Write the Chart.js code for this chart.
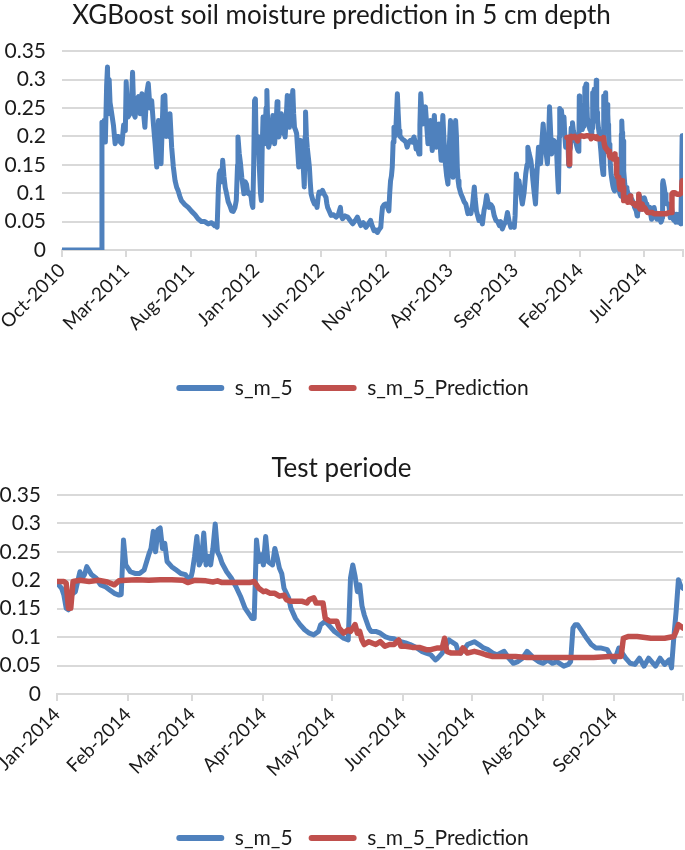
<!DOCTYPE html>
<html>
<head>
<meta charset="utf-8">
<script src="https://cdn.jsdelivr.net/npm/chart.js@4/dist/chart.umd.min.js"></script>
<style>
  html, body { margin: 0; padding: 0; background: #ffffff; }
  #wrap { position: relative; width: 685px; height: 850px; overflow: hidden; }
  canvas { position: absolute; left: 0; }
</style>
</head>
<body>
<div id="wrap">
  <canvas id="c1" width="685" height="430" style="top:0px"></canvas>
  <canvas id="c2" width="685" height="440" style="top:425px"></canvas>
</div>
<script>
// ---------- DATA ----------
// Full period: day offsets counted from 1 Oct 2010
const histDays = [0,93,94,96,99,102,105,107,109,111,113,117,121,125,129,133,137,141,145,149,151,155,160,163,166,169,172,176,180,184,188,192,195,199,203,207,211,215,219,223,227,230,233,238,242,245,248,251,254,258,262,266,270,273,277,281,289,297,305,313,320,328,336,344,352,359,363,365,368,370,373,376,378,381,384,387,391,395,399,403,407,410,413,414,417,420,423,426,428,431,434,437,439,442,445,447,449,451,453,455,457,459,461,463,465,467,469,471,473,475,477,480,482,484,486,489,492,494,496,498,500,503,506,508,510,513,516,518,521,523,525,528,530,533,535,537,539,541,543,545,547,550,552,555,557,559,561,563,566,568,570,572,573,575,577,580,582,584,586,590,594,597,600,603,605,609,613,617,621,623,625,629,633,639,645,650,655,657,660,666,672,678,684,690,695,699,703,709,715,720,726,730,734,738,742,746,750,752,754,758,762,766,769,771,773,775,777,779,781,783,785,787,789,791,793,795,797,801,805,809,812,816,820,824,828,831,833,836,840,842,844,846,849,852,855,858,861,864,867,869,871,874,876,878,881,884,887,890,892,894,896,899,902,905,908,911,914,917,920,923,926,928,930,932,934,938,942,946,950,955,959,962,966,970,972,975,978,981,985,989,993,996,999,1002,1005,1009,1013,1017,1021,1025,1029,1032,1036,1040,1044,1048,1052,1056,1060,1064,1066,1069,1072,1075,1079,1083,1087,1091,1094,1096,1099,1103,1106,1108,1111,1114,1117,1121,1124,1126,1129,1132,1134,1136,1139,1142,1145,1147,1150,1152,1155,1157,1160,1163,1166,1168,1170,1171,1173,1175,1178,1181,1183,1185,1187];
const histVals = [0,0,0.225,0.21,0.228,0.19,0.29,0.322,0.24,0.3,0.26,0.24,0.22,0.187,0.2,0.2,0.19,0.187,0.22,0.21,0.296,0.234,0.24,0.25,0.313,0.24,0.234,0.265,0.27,0.24,0.275,0.24,0.216,0.275,0.293,0.25,0.263,0.222,0.187,0.146,0.228,0.2,0.152,0.27,0.272,0.2,0.234,0.2,0.24,0.181,0.146,0.122,0.11,0.105,0.095,0.087,0.08,0.075,0.068,0.062,0.055,0.05,0.05,0.046,0.048,0.043,0.047,0.04,0.11,0.134,0.14,0.12,0.158,0.13,0.11,0.1,0.085,0.078,0.069,0.068,0.075,0.087,0.15,0.199,0.17,0.152,0.128,0.11,0.099,0.12,0.116,0.1,0.099,0.1,0.093,0.08,0.075,0.15,0.263,0.266,0.175,0.2,0.193,0.17,0.134,0.1,0.087,0.18,0.234,0.2,0.187,0.25,0.281,0.22,0.181,0.19,0.193,0.22,0.237,0.2,0.187,0.21,0.261,0.22,0.199,0.22,0.24,0.21,0.205,0.22,0.199,0.24,0.272,0.23,0.216,0.25,0.272,0.26,0.281,0.24,0.216,0.21,0.205,0.17,0.146,0.17,0.193,0.18,0.175,0.14,0.111,0.2,0.243,0.2,0.181,0.16,0.146,0.12,0.099,0.088,0.081,0.085,0.075,0.095,0.102,0.1,0.105,0.098,0.093,0.082,0.075,0.068,0.061,0.062,0.058,0.062,0.075,0.06,0.055,0.06,0.058,0.052,0.046,0.052,0.058,0.05,0.043,0.048,0.04,0.045,0.052,0.042,0.034,0.035,0.031,0.036,0.04,0.06,0.075,0.08,0.081,0.075,0.069,0.1,0.122,0.13,0.146,0.19,0.216,0.2,0.205,0.24,0.275,0.24,0.21,0.2,0.199,0.195,0.193,0.19,0.181,0.19,0.193,0.19,0.199,0.19,0.178,0.18,0.169,0.22,0.275,0.25,0.222,0.24,0.252,0.22,0.187,0.2,0.228,0.2,0.175,0.21,0.237,0.21,0.181,0.2,0.222,0.18,0.158,0.2,0.237,0.19,0.152,0.13,0.116,0.18,0.228,0.18,0.128,0.18,0.228,0.2,0.146,0.122,0.111,0.1,0.093,0.085,0.081,0.064,0.068,0.064,0.08,0.111,0.09,0.069,0.06,0.052,0.058,0.046,0.07,0.08,0.096,0.085,0.075,0.08,0.075,0.06,0.052,0.05,0.043,0.05,0.037,0.045,0.05,0.066,0.05,0.04,0.045,0.04,0.06,0.134,0.11,0.122,0.1,0.081,0.1,0.134,0.15,0.181,0.17,0.158,0.14,0.122,0.1,0.081,0.13,0.181,0.16,0.152,0.19,0.222,0.2,0.193,0.17,0.152,0.2,0.252,0.2,0.169,0.19,0.193,0.19,0.187,0.13,0.102,0.2,0.249,0.23,0.246,0.22,0.234,0.2,0.181,0.195];

// Test period: day offsets counted from 1 Jan 2014
const testStartDay = 1188; // 1 Jan 2014 counted from 1 Oct 2010
const testDays = [0,2,3,4,5,6,8,10,11,12,13,15,17,19,21,23,25,27,28,29,30,31,32,34,36,38,40,41,42,43,44,45,46,47,48,50,52,54,56,58,59,60,61,62,63,64,65,66,67,68,69,70,71,72,74,76,78,80,82,84,85,86,87,88,89,90,91,92,93,94,95,96,97,98,99,101,102,104,106,108,110,112,114,115,117,119,121,123,125,127,128,129,130,131,132,133,134,136,137,139,141,143,145,147,148,150,152,154,156,157,159,161,163,165,166,168,169,171,172,174,175,176,178,179,182,184,186,188,190,192,195,197,199,201,203,205,208,210,212,214,216,218,221,223,224,225,226,227,229,231,233,235,237,240,242,243,245,246,248,250,252,254,256,258,261,263,265,267,268,269,270,271,272,273];
const testVals = [0.195,0.186,0.174,0.151,0.148,0.174,0.18,0.215,0.204,0.21,0.224,0.21,0.204,0.192,0.189,0.183,0.177,0.174,0.175,0.271,0.227,0.221,0.215,0.212,0.212,0.218,0.245,0.256,0.286,0.25,0.289,0.292,0.256,0.265,0.233,0.224,0.218,0.212,0.21,0.198,0.215,0.242,0.277,0.227,0.236,0.283,0.227,0.242,0.227,0.256,0.299,0.25,0.242,0.23,0.215,0.204,0.189,0.172,0.151,0.139,0.133,0.133,0.271,0.233,0.245,0.227,0.277,0.233,0.23,0.227,0.256,0.24,0.221,0.212,0.186,0.169,0.151,0.133,0.122,0.113,0.107,0.104,0.11,0.122,0.128,0.119,0.11,0.104,0.098,0.095,0.204,0.227,0.207,0.18,0.192,0.155,0.139,0.116,0.11,0.11,0.107,0.101,0.098,0.097,0.095,0.092,0.09,0.087,0.083,0.081,0.075,0.072,0.069,0.06,0.063,0.072,0.081,0.095,0.092,0.087,0.075,0.072,0.081,0.087,0.092,0.087,0.081,0.078,0.072,0.069,0.075,0.063,0.054,0.057,0.063,0.075,0.063,0.057,0.054,0.06,0.054,0.057,0.049,0.052,0.057,0.116,0.122,0.122,0.11,0.098,0.087,0.081,0.081,0.078,0.063,0.057,0.081,0.075,0.063,0.054,0.052,0.063,0.049,0.063,0.049,0.063,0.052,0.06,0.046,0.1,0.145,0.201,0.19,0.186];
const predDays = [0,3,4,5,6,7,10,14,18,22,25,27,30,35,40,45,50,55,57,60,65,68,70,72,76,80,84,86,88,90,91,93,95,97,99,100,102,104,107,109,110,112,113,116,117,119,122,123,125,127,128,130,131,132,133,134,136,139,141,143,145,147,149,150,152,155,158,161,163,166,168,169,170,172,176,177,179,182,185,187,190,195,200,205,212,220,227,234,241,246,247,249,253,259,265,269,270,271,273];
const predVals = [0.198,0.198,0.195,0.151,0.151,0.198,0.2,0.198,0.2,0.197,0.192,0.199,0.2,0.201,0.2,0.201,0.201,0.2,0.196,0.2,0.199,0.197,0.199,0.196,0.196,0.196,0.196,0.198,0.186,0.18,0.181,0.177,0.177,0.172,0.174,0.166,0.163,0.163,0.163,0.16,0.166,0.169,0.16,0.16,0.133,0.128,0.128,0.116,0.107,0.113,0.11,0.122,0.107,0.11,0.095,0.087,0.092,0.087,0.092,0.084,0.087,0.087,0.095,0.084,0.084,0.082,0.082,0.078,0.078,0.081,0.081,0.098,0.075,0.072,0.072,0.081,0.072,0.075,0.072,0.069,0.066,0.066,0.066,0.064,0.064,0.064,0.064,0.064,0.066,0.066,0.098,0.101,0.101,0.098,0.098,0.101,0.11,0.122,0.116];

// Axis tick dates and labels
const topTickDays = [0,151,304,457,609,762,913,1066,1219,1369,1461];
const topTickLabels = ['Oct-2010','Mar-2011','Aug-2011','Jan-2012','Jun-2012','Nov-2012','Apr-2013','Sep-2013','Feb-2014','Jul-2014',''];
const testTickDays = [0,31,59,90,120,151,181,212,243,273];
const testTickLabels = ['Jan-2014','Feb-2014','Mar-2014','Apr-2014','May-2014','Jun-2014','Jul-2014','Aug-2014','Sep-2014',''];
const yTicks = [0,0.05,0.1,0.15,0.2,0.25,0.3,0.35];

const seriesNames = ['s_m_5','s_m_5_Prediction'];
const titles = ['XGBoost soil moisture prediction in 5 cm depth','Test periode'];

// ---------- BUILD ----------
const pts = (days, vals, off) => days.map((d, i) => ({x: d + off, y: vals[i]}));
const topBlue = pts(histDays, histVals, 0).concat(pts(testDays, testVals, testStartDay));
const topRed = pts(predDays, predVals, testStartDay);
const botBlue = pts(testDays, testVals, 0);
const botRed = pts(predDays, predVals, 0);

const FONT = 'Lato, "Open Sans", sans-serif';
const TXT = '#1a1a1a';
const BLUE = '#4F81BD';
const RED = '#C0504D';
const GRID = '#D9D9D9';

// shifts the legend block horizontally (Excel places it slightly right of centre)
const legendShift = {
  id: 'legendShift',
  afterUpdate(chart, args, o) {
    if (chart.legend) { chart.legend.left += o.dx; chart.legend.right += o.dx; }
  }
};

function makeChart(canvasId, opts) {
  const legendLabels = (chart) => Chart.defaults.plugins.legend.labels.generateLabels(chart)
      .map(l => Object.assign(l, {lineWidth: 0}));
  return new Chart(document.getElementById(canvasId), {
    type: 'line',
    plugins: [legendShift],
    data: {
      datasets: [
        {label: seriesNames[0], data: opts.blue, borderColor: BLUE, backgroundColor: BLUE,
         borderWidth: opts.blueWidth, pointRadius: 0, order: 2, borderJoinStyle: 'round', borderCapStyle: 'round'},
        {label: seriesNames[1], data: opts.red, borderColor: RED, backgroundColor: RED,
         borderWidth: 5.5, pointRadius: 0, order: 1, borderJoinStyle: 'round', borderCapStyle: 'round'}
      ]
    },
    options: {
      responsive: false,
      animation: false,
      devicePixelRatio: 1,
      layout: {padding: {left: 0, right: 2, top: 0, bottom: opts.padBottom}},
      plugins: {
        legendShift: {dx: 11},
        title: {display: true, text: opts.title, color: TXT,
                font: {family: FONT, size: 26, weight: 'normal'},
                padding: {top: opts.titleTop, bottom: opts.titleBottom}},
        legend: {position: 'bottom',
                 labels: {boxWidth: 48, boxHeight: 6, color: TXT, padding: 16,
                          font: {family: FONT, size: 21},
                          useBorderRadius: true, borderRadius: 3,
                          generateLabels: legendLabels,
                          sort: (a, b) => a.datasetIndex - b.datasetIndex}},
        tooltip: {enabled: false}
      },
      scales: {
        x: {
          type: 'linear', min: 0, max: opts.max,
          afterBuildTicks: (s) => { s.ticks = opts.tickDays.map(v => ({value: v})); },
          afterFit: (s) => { s.height = opts.xHeight; s.paddingLeft = 0; s.paddingRight = 0; },
          ticks: {autoSkip: false, minRotation: 45, maxRotation: 45, color: TXT, padding: 2,
                  font: {family: FONT, size: 19},
                  callback: (v, i) => opts.tickLabels[i]},
          grid: {drawOnChartArea: false, drawTicks: true, tickLength: 7, color: GRID, lineWidth: 2},
          border: {display: true, color: GRID, width: 2}
        },
        y: {
          min: 0, max: 0.35,
          afterBuildTicks: (s) => { s.ticks = yTicks.map(v => ({value: v})); },
          afterFit: (s) => { s.width = opts.yWidth; },
          ticks: {color: TXT, padding: 16, font: {family: FONT, size: 21},
                  callback: (v) => String(parseFloat(Number(v).toFixed(2)))},
          grid: {color: GRID, lineWidth: 2, drawTicks: false},
          border: {display: false}
        }
      }
    }
  });
}

makeChart('c1', {blue: topBlue, red: topRed, title: titles[0], max: 1461, blueWidth: 5,
  tickDays: topTickDays, tickLabels: topTickLabels,
  titleTop: 0, titleBottom: 20, yWidth: 62, xHeight: 111.5, padBottom: 21.5});
makeChart('c2', {blue: botBlue, red: botRed, title: titles[1], max: 273, blueWidth: 5,
  tickDays: testTickDays, tickLabels: testTickLabels,
  titleTop: 28.4, titleBottom: 10.4, yWidth: 57, xHeight: 117.5, padBottom: 6.5});
</script>
</body>
</html>
